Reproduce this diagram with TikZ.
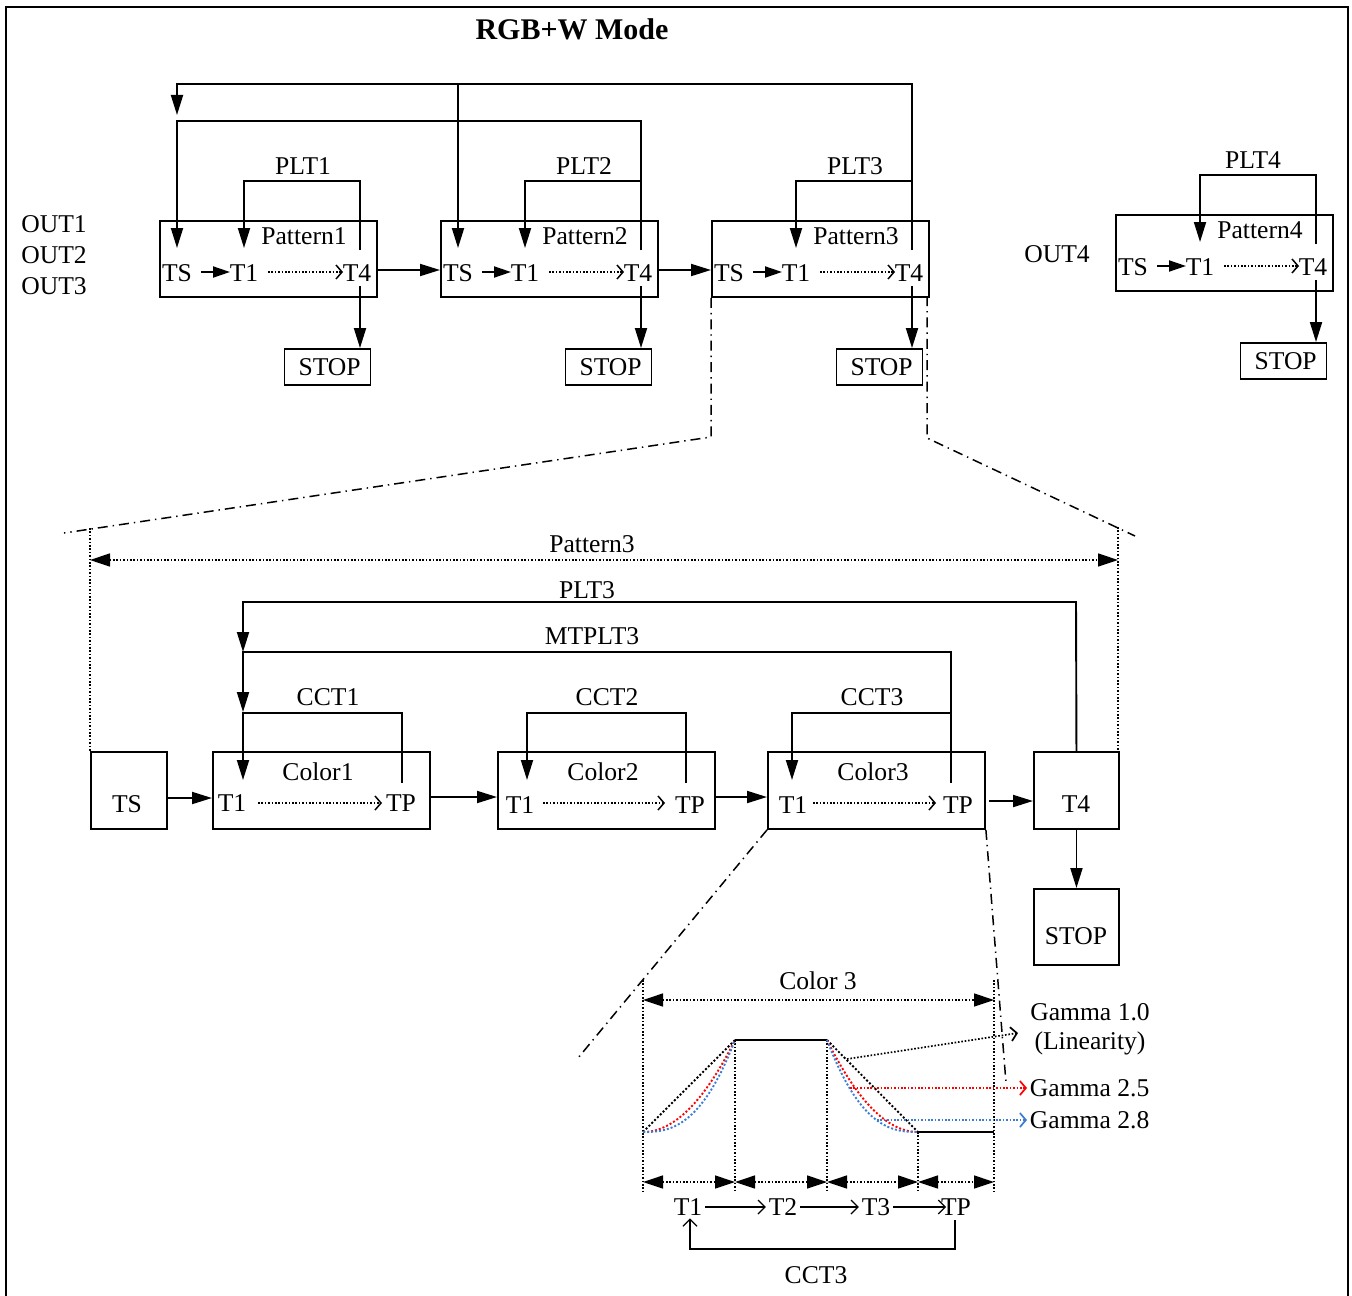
\documentclass[tikz,border=0pt]{standalone}
\usepackage{fontspec}
\setmainfont{Liberation Serif}
\usetikzlibrary{arrows.meta}
\definecolor{gblue}{RGB}{58,125,214}
\definecolor{gred}{RGB}{255,0,0}
\begin{document}
\begin{tikzpicture}[x=0.5pt,y=-0.5pt,line width=0.95pt,
  font=\fontsize{12.8}{14}\selectfont,
  every node/.style={inner sep=1pt},
  box/.style={draw,inner sep=0pt},
  arr/.style={-{Triangle[length=10pt,width=6pt]}},
  sarr/.style={-{Triangle[length=8.5pt,width=5.5pt]}},
  bothar/.style={{Triangle[length=10pt,width=6.5pt]}-{Triangle[length=10pt,width=6.5pt]}},
  dots/.style={line width=0.75pt,dash pattern=on 0.8pt off 0.9pt},
  cdots/.style={line width=0.95pt,dash pattern=on 1pt off 1pt},
  dotarr/.style={dots,-{Straight Barb[length=3pt,width=7pt]}},
  dd/.style={line width=0.75pt,dash pattern=on 5pt off 2.5pt on 0.7pt off 2.5pt},
  thinarr/.style={line width=0.6pt,-{Straight Barb[length=3.5pt,width=7pt]}}]
\useasboundingbox (0,0) rectangle (1352,1295);
\fill[white] (0,0) rectangle (1352,1295);
\draw (6,1297) -- (6,7) -- (1348,7) -- (1348,1297);

% ---------------- top section ----------------
\node[font=\fontsize{15}{18}\selectfont\bfseries] (title) at (572,29) {RGB+W Mode};
\node (out1) at (54,224) {OUT1};
\node (out2) at (54,255) {OUT2};
\node (out3) at (54,286) {OUT3};
\node (out4) at (1057,254) {OUT4};

\foreach \i/\l/\dy/\pl in {1/159/0/144,2/440/0/144,3/711/0/144,4/1115/-6/138}{
  \node[box,minimum width=108.5pt,minimum height=38pt,anchor=north west] (P\i) at (\l,{220+\dy}) {};
  \node (P\i TS) at ({\l+18},{273+\dy}) {TS};
  \node (P\i T1) at ({\l+85},{273+\dy}) {T1};
  \node (P\i T4) at ({\l+198},{273+\dy}) {T4};
  \node (P\i lab) at ({\l+145},{236+\dy}) {Pattern\i};
  \node (PLT\i) at ({\l+\pl},{166+\dy}) {PLT\i};
  \node[box,minimum width=43pt,minimum height=18pt] (S\i) at ({\l+168.5},{367+\dy}) {\,STOP};
  \draw[sarr] ({\l+42},{272+\dy}) -- ({\l+71},{272+\dy});
  \draw[dotarr] ({\l+109},{272+\dy}) -- ({\l+184},{272+\dy});
  \draw[arr] ({\l+201},{250+\dy}) -- ({\l+201},{181+\dy}) -- ({\l+85},{181+\dy}) -- ({\l+85},{248+\dy});
  \draw[arr] ({\l+201},{286+\dy}) -- (S\i.north -| {\l+201},0);
}
\draw[arr] (P1.east |- 0,270) -- (P2.west |- 0,270);
\draw[arr] (P2.east |- 0,270) -- (P3.west |- 0,270);
\draw[arr] (641,181) -- (641,121) -- (177,121) -- (177,248);
\draw[arr] (912,181) -- (912,84) -- (177,84) -- (177,115);
\draw[arr] (458,84) -- (458,248);

\draw[dd] (P3.south west) -- (711,437) -- (64,533);
\draw[dd] (927,296) -- (927,438) -- (1135,536);

% ---------------- middle section ----------------
\draw[dots] (90,528) -- (90,751);
\draw[dots] (1118,527) -- (1118,751);
\draw[dots,bothar] (90,560) -- (1118,560);
\node (pat3) at (592,544) {Pattern3};

\node[box,minimum width=38pt,minimum height=38.5pt,anchor=north west] (TSb) at (90,751) {};
\node (TSl) at (127,804) {TS};
\foreach \i/\l in {1/212,2/497,3/767}{
  \node[box,minimum width=108.5pt,minimum height=38.5pt,anchor=north west] (C\i) at (\l,751) {};
}
\node[box,minimum width=42.5pt,minimum height=38.5pt,anchor=north west] (T4b) at (1033,751) {};
\node (T4l) at (1076,804) {T4};
\node[box,minimum width=42.5pt,minimum height=38pt,anchor=north west] (STb) at (1033,888) {};
\node (STl) at (1076,936) {STOP};

\node (C1lab) at (318,772) {Color1};
\node (C1T1) at (232,803) {T1};
\node (C1TP) at (401,803) {TP};
\node (C2lab) at (603,772) {Color2};
\node (C2T1) at (520,805) {T1};
\node (C2TP) at (690,805) {TP};
\node (C3lab) at (873,772) {Color3};
\node (C3T1) at (793,805) {T1};
\node (C3TP) at (958,805) {TP};
\draw[dotarr] (258,803) -- (382,803);
\draw[dotarr] (543,803) -- (665,803);
\draw[dotarr] (813,803) -- (936,803);

\node (plt3m) at (587,590) {PLT3};
\node (mtplt3) at (592,636) {MTPLT3};
\node (cct1) at (328,697) {CCT1};
\node (cct2) at (607,697) {CCT2};
\node (cct3) at (872,697) {CCT3};

\draw[arr] (T4b.north) -- (1076,602) -- (243,602) -- (243,652);
\draw[arr] (951,783) -- (951,652) -- (243,652) -- (243,712);
\draw[arr] (402,783) -- (402,713) -- (243,713) -- (243,780);
\draw[arr] (686,783) -- (686,713) -- (527,713) -- (527,780);
\draw[arr] (951,713) -- (792,713) -- (792,780);

\draw[arr] (TSb.east |- 0,798) -- (C1.west |- 0,798);
\draw[arr] (C1.east |- 0,797) -- (C2.west |- 0,797);
\draw[arr] (C2.east |- 0,797) -- (C3.west |- 0,797);
\draw[arr] (989,801) -- (T4b.west |- 0,801);
\draw[arr] (T4b.south) -- (STb.north);

\draw[dd] (C3.south west) -- (578,1058);
\draw[dd] (C3.south east) -- (1006,1083);

% ---------------- bottom section ----------------
\draw[dots] (643,980) -- (643,1192);
\draw[dots] (994,980) -- (994,1192);
\draw[dots] (735,1040) -- (735,1192);
\draw[dots] (827,1040) -- (827,1192);
\draw[dots] (918,1132) -- (918,1192);
\draw[dots,bothar] (643,1000) -- (994,1000);
\node (col3) at (818,981) {Color 3};

\draw[line width=0.9pt] (735,1040) -- (827,1040);
\draw[line width=0.9pt] (918,1132) -- (994,1132);
\draw[cdots] (643,1132) -- (735,1040);
\draw[cdots] (827,1040) -- (918,1132);
\draw[cdots,gred] plot[domain=0.001:1,samples=40] ({643+92*\x},{1132-92*(\x^2)});
\draw[cdots,gblue] plot[domain=0.001:1,samples=40] ({643+92*\x},{1132-92*(\x^2.6)});
\draw[cdots,gred] plot[domain=0:0.999,samples=40] ({827+91*\x},{1132-92*((1-\x)^2)});
\draw[cdots,gblue] plot[domain=0:0.999,samples=40] ({827+91*\x},{1132-92*((1-\x)^2.6)});

\node (g10) at (1090,1012) {Gamma 1.0};
\node (lin) at (1090,1043) {(Linearity)};
\node[anchor=west] (g25) at (1027,1088) {Gamma 2.5};
\node[anchor=west] (g28) at (1027,1120) {Gamma 2.8};
\draw[dotarr,line width=0.85pt] (847,1059) -- (1018,1033);
\draw[dotarr,line width=0.85pt,gred] (850,1088) -- (g25.west);
\draw[dotarr,line width=0.85pt,gblue] (877,1120) -- (g28.west);

\draw[dots,bothar] (643,1182) -- (735,1182);
\draw[dots,bothar] (735,1182) -- (827,1182);
\draw[dots,bothar] (827,1182) -- (918,1182);
\draw[dots,bothar] (918,1182) -- (994,1182);

\node (sT1) at (688,1207) {T1};
\node (sT2) at (783,1207) {T2};
\node (sT3) at (876,1207) {T3};
\node (sTP) at (956,1207) {TP};
\draw[thinarr] (sT1.east) -- (sT2.west);
\draw[thinarr] (sT2.east) -- (sT3.west);
\draw[thinarr] (sT3.east) -- ([xshift=4pt]sTP.west);
\draw[thinarr] (955,1220) -- (955,1249) -- (690,1249) -- (sT1.south -| 690,0);
\node (cct3b) at (816,1275) {CCT3};
\end{tikzpicture}
\end{document}
